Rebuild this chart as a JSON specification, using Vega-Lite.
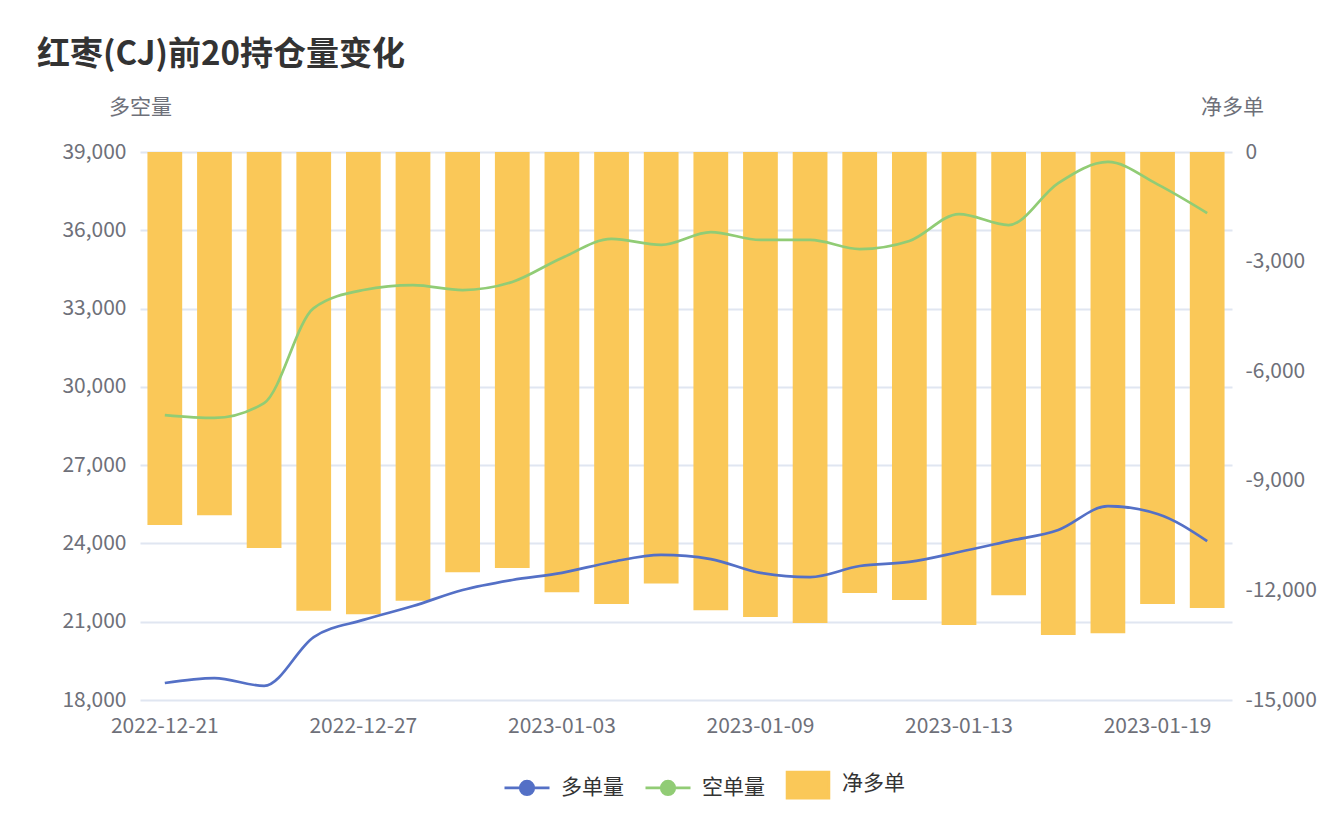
{
  "$schema": "https://vega.github.io/schema/vega-lite/v6.json",
  "autosize": {"type": "none"},
  "width": 1092,
  "height": 548,
  "padding": {"left": 140, "top": 152, "right": 97, "bottom": 126},
  "background": "#ffffff",
  "config": {
    "view": {"stroke": null},
    "font": "Noto Sans CJK SC",
    "axis": {"labelFont": "Noto Sans CJK SC", "labelFontSize": 21, "labelColor": "#6e7079", "titleFont": "Noto Sans CJK SC", "titleFontSize": 21, "titleColor": "#6e7079", "titleFontWeight": "normal"},
    "legend": {"labelFont": "Noto Sans CJK SC", "labelFontSize": 21, "labelColor": "#333333"}
  },
  "title": {
    "text": "红枣(CJ)前20持仓量变化",
    "anchor": "start",
    "frame": "group",
    "dx": -103,
    "offset": 24,
    "fontSize": 33,
    "fontWeight": "bold",
    "color": "#333333",
    "font": "Noto Sans CJK SC"
  },
  "data": {
    "values": [
      {"date": "2022-12-21", "多单量": 18650, "空单量": 28920, "net": -10210},
      {"date": "2022-12-22", "多单量": 18840, "空单量": 28810, "net": -9940},
      {"date": "2022-12-23", "多单量": 18540, "空单量": 29380, "net": -10840},
      {"date": "2022-12-26", "多单量": 20410, "空单量": 33020, "net": -12560},
      {"date": "2022-12-27", "多单量": 21070, "空单量": 33710, "net": -12650},
      {"date": "2022-12-28", "多单量": 21600, "空单量": 33900, "net": -12280},
      {"date": "2022-12-29", "多单量": 22215, "空单量": 33710, "net": -11500},
      {"date": "2022-12-30", "多单量": 22600, "空单量": 34020, "net": -11390},
      {"date": "2023-01-03", "多单量": 22870, "空单量": 34940, "net": -12050},
      {"date": "2023-01-04", "多单量": 23290, "空单量": 35670, "net": -12370},
      {"date": "2023-01-05", "多单量": 23560, "空单量": 35440, "net": -11810},
      {"date": "2023-01-06", "多单量": 23400, "空单量": 35930, "net": -12540},
      {"date": "2023-01-09", "多单量": 22870, "空单量": 35630, "net": -12730},
      {"date": "2023-01-10", "多单量": 22710, "空单量": 35630, "net": -12890},
      {"date": "2023-01-11", "多单量": 23135, "空单量": 35280, "net": -12070},
      {"date": "2023-01-12", "多单量": 23290, "空单量": 35590, "net": -12260},
      {"date": "2023-01-13", "多单量": 23670, "空单量": 36620, "net": -12950},
      {"date": "2023-01-16", "多单量": 24090, "空单量": 36200, "net": -12130},
      {"date": "2023-01-17", "多单量": 24515, "空单量": 37810, "net": -13220},
      {"date": "2023-01-18", "多单量": 25430, "空单量": 38620, "net": -13170},
      {"date": "2023-01-19", "多单量": 25130, "空单量": 37760, "net": -12370},
      {"date": "2023-01-20", "多单量": 24090, "空单量": 36660, "net": -12480}
    ]
  },
  "encoding": {
    "x": {
      "field": "date",
      "type": "ordinal",
      "sort": null,
      "scale": {"paddingInner": 0.3, "paddingOuter": 0.15},
      "axis": {
        "title": null,
        "values": ["2022-12-21", "2022-12-27", "2023-01-03", "2023-01-09", "2023-01-13", "2023-01-19"],
        "labelAngle": 0,
        "domain": false,
        "ticks": false,
        "grid": false,
        "labelPadding": 15
      }
    }
  },
  "layer": [
    {
      "layer": [
        {
          "mark": {"type": "rule", "color": "#6e7079", "strokeWidth": 1.8},
          "encoding": {"y": {"datum": 0, "type": "quantitative"}}
        },
        {
          "mark": {"type": "bar"},
          "encoding": {
            "y": {
              "field": "net",
              "type": "quantitative",
              "scale": {"domain": [-15000, 0], "nice": false},
              "axis": {
                "orient": "right",
                "title": "净多单",
                "titleAngle": 0,
                "titleX": 0,
                "titleY": -45,
                "titleAlign": "center",
                "titleBaseline": "middle",
                "values": [-15000, -12000, -9000, -6000, -3000, 0],
                "labelExpr": "replace(format(datum.value, ',.0f'), '\u2212', '-')",
                "domain": false,
                "ticks": false,
                "grid": false,
                "labelPadding": 13
              }
            },
            "color": {
              "datum": "净多单",
              "type": "nominal",
              "scale": {"domain": ["多单量", "空单量", "净多单"], "range": ["#5470c6", "#91cc75", "#fac858"]},
              "legend": {
                "title": null,
                "orient": "none",
                "direction": "horizontal",
                "legendX": 363,
                "legendY": 608,
                "symbolSize": 2025,
                "symbolStrokeWidth": 2.7,
                "labelOffset": 10,
                "columnPadding": 16,
                "encode": {
                  "symbols": {
                    "update": {
                      "fill": {"scale": "color", "field": "value"},
                      "stroke": {"scale": "color", "field": "value"},
                      "strokeWidth": {"value": 2.7},
                      "opacity": {"value": 1},
                      "shape": {"signal": "datum.value === '净多单' ? 'M-0.93,-0.55L0.93,-0.55L0.93,0.61L-0.93,0.61Z' : 'M-1,0L-0.3,0M0.3,0L1,0M0.3,0A0.3,0.3,0,1,1,-0.3,0A0.3,0.3,0,1,1,0.3,0Z'"}
                    }
                  }
                }
              }
            }
          }
        }
      ]
    },
    {
      "transform": [{"fold": ["多单量", "空单量"], "as": ["series", "value"]}],
      "mark": {"type": "line", "strokeWidth": 2.7, "interpolate": "monotone"},
      "encoding": {
        "y": {
          "field": "value",
          "type": "quantitative",
          "scale": {"domain": [18000, 39000], "nice": false, "zero": false},
          "axis": {
            "orient": "left",
            "title": "多空量",
            "titleAngle": 0,
            "titleX": 0,
            "titleY": -45,
            "titleAlign": "center",
            "titleBaseline": "middle",
            "values": [18000, 21000, 24000, 27000, 30000, 33000, 36000, 39000],
            "labelExpr": "format(datum.value, ',.0f')",
            "domain": false,
            "ticks": false,
            "grid": true,
            "gridColor": "#e0e6f1",
            "gridWidth": 1.8,
            "labelPadding": 14
          }
        },
        "color": {
          "field": "series",
          "type": "nominal",
          "scale": {"domain": ["多单量", "空单量", "净多单"], "range": ["#5470c6", "#91cc75", "#fac858"]},
          "legend": {
            "title": null,
            "orient": "none",
            "direction": "horizontal",
            "legendX": 363,
            "legendY": 608,
            "symbolSize": 2025,
            "symbolStrokeWidth": 2.7,
            "labelOffset": 10,
            "columnPadding": 16,
            "encode": {
              "symbols": {
                "update": {
                  "fill": {"scale": "color", "field": "value"},
                  "stroke": {"scale": "color", "field": "value"},
                  "strokeWidth": {"value": 2.7},
                  "opacity": {"value": 1},
                  "shape": {"signal": "datum.value === '净多单' ? 'M-0.93,-0.55L0.93,-0.55L0.93,0.61L-0.93,0.61Z' : 'M-1,0L-0.3,0M0.3,0L1,0M0.3,0A0.3,0.3,0,1,1,-0.3,0A0.3,0.3,0,1,1,0.3,0Z'"}
                }
              }
            }
          }
        }
      }
    }
  ],
  "resolve": {"scale": {"y": "independent"}}
}
